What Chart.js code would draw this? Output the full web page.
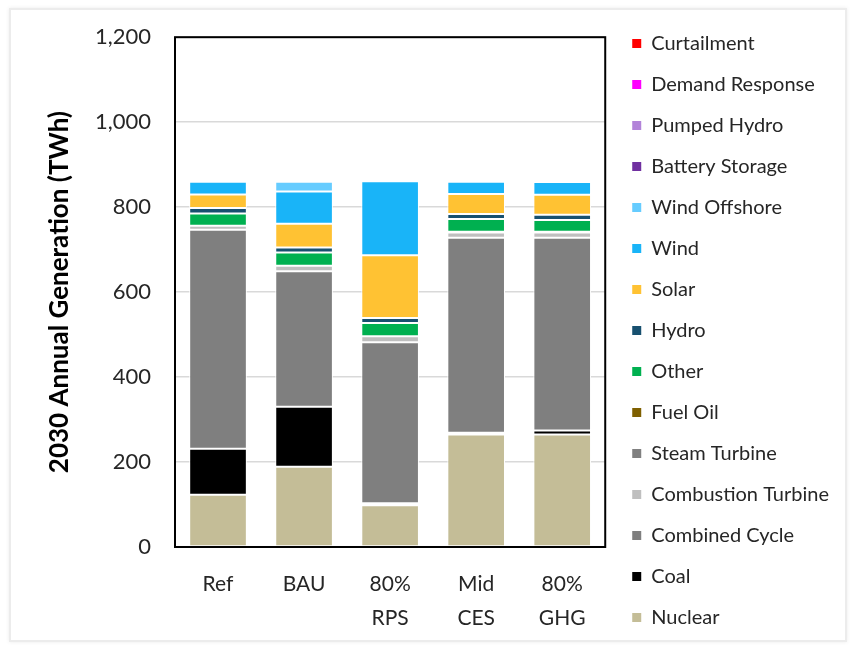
<!DOCTYPE html>
<html>
<head>
<meta charset="utf-8">
<title>2030 Annual Generation</title>
<script src="https://cdn.jsdelivr.net/npm/chart.js@4.4.0/dist/chart.umd.min.js"></script>
<style>
    body { margin: 0; background: #fff; }
    #wrap { position: relative; width: 851px; height: 650px; }
    #frame {
        position: absolute; left: 9px; top: 8px; width: 834px; height: 630px;
        border: 2px solid #ececec; box-shadow: 0 0 4px rgba(0,0,0,0.08);
        pointer-events: none;
    }
    canvas { position: absolute; left: 0; top: 0; }
</style>
</head>
<body>
<div id="wrap">
    <div id="frame"></div>
    <canvas id="genChart" width="851" height="650"></canvas>
</div>
<script>
// Scenarios along the x axis
const scenarios = ['Ref', 'BAU', ['80%', 'RPS'], ['Mid', 'CES'], ['80%', 'GHG']];

// Generation by technology, TWh
const nuclear           = [123, 189,  98, 265, 265];
const coal              = [108, 141,   5,   4,   9];
const combinedCycle     = [516, 319, 379, 459, 454];
const combustionTurbine = [  9,  13,  14,  12,  12];
const steamTurbine      = [  0,   0,   0,   2,   2];
const fuelOil           = [  0,   0,   0,   0,   0];
const other             = [ 29,  31,  31,  30,  28];
const hydro             = [ 13,  12,  12,  12,  12];
const solar             = [ 32,  56, 148,  47,  47];
const wind              = [ 30,  76, 174,  29,  30];
const windOffshore      = [  0,  23,   0,   0,   0];
const batteryStorage    = [  0,   0,   0,   0,   0];
const pumpedHydro       = [  0,   0,   0,   0,   0];
const demandResponse    = [  0,   0,   0,   0,   0];
const curtailment       = [  0,   0,   0,   0,   0];

// y axis
const yMin = 0;
const yMax = 1200;
const yStep = 200;

// bottom of stack first
const series = [
    { label: 'Nuclear',            data: nuclear,           color: '#c4bd97' },
    { label: 'Coal',               data: coal,              color: '#000000' },
    { label: 'Combined Cycle',     data: combinedCycle,     color: '#7f7f7f' },
    { label: 'Combustion Turbine', data: combustionTurbine, color: '#bfbfbf' },
    { label: 'Steam Turbine',      data: steamTurbine,      color: '#808080' },
    { label: 'Fuel Oil',           data: fuelOil,           color: '#7f6000' },
    { label: 'Other',              data: other,             color: '#00b050' },
    { label: 'Hydro',              data: hydro,             color: '#17506f' },
    { label: 'Solar',              data: solar,             color: '#ffc233' },
    { label: 'Wind',               data: wind,              color: '#19b4f8' },
    { label: 'Wind Offshore',      data: windOffshore,      color: '#66ccff' },
    { label: 'Battery Storage',    data: batteryStorage,    color: '#7030a0' },
    { label: 'Pumped Hydro',       data: pumpedHydro,       color: '#b283d9' },
    { label: 'Demand Response',    data: demandResponse,    color: '#ff00ff' },
    { label: 'Curtailment',        data: curtailment,       color: '#ff0000' }
];

// black frame round the plot area
const plotBox = {
    id: 'plotBox',
    afterDatasetsDraw(chart) {
        const a = chart.chartArea;
        const ctx = chart.ctx;
        ctx.save();
        ctx.strokeStyle = '#000';
        ctx.lineWidth = 2;
        ctx.strokeRect(a.left, a.top, a.right - a.left, a.bottom - a.top);
        ctx.restore();
    }
};

// empty spacer axes, only used to place the plot area
const spacer = (pos, size) => ({
    type: 'linear',
    position: pos,
    display: true,
    grid: { display: false, drawTicks: false },
    border: { display: false },
    ticks: { display: false },
    afterFit(scale) {
        if (pos === 'top') scale.height = size; else scale.width = size;
    }
});

function drawChart() {
    const ctx = document.getElementById('genChart').getContext('2d');
    new Chart(ctx, {
        type: 'bar',
        data: {
            labels: scenarios,
            datasets: series.map(s => ({
                label: s.label,
                data: s.data,
                backgroundColor: s.color,
                borderColor: '#ffffff',
                borderWidth: 1,
                borderSkipped: false,
                categoryPercentage: 1.0,
                barPercentage: 0.67
            }))
        },
        options: {
            responsive: false,
            animation: false,
            layout: { padding: { left: 10, top: 11, right: 12, bottom: 0 } },
            scales: {
                x: {
                    stacked: true,
                    grid: { display: false, drawTicks: false },
                    border: { display: false },
                    ticks: {
                        color: '#262626',
                        padding: 20,
                        font: { family: 'Lato', size: 21, lineHeight: 1.62 }
                    },
                    afterFit(scale) { scale.height = 103; }
                },
                y: {
                    stacked: true,
                    min: yMin,
                    max: yMax,
                    grid: { color: '#d9d9d9', lineWidth: 1.5, drawTicks: false },
                    border: { display: false },
                    ticks: {
                        stepSize: yStep,
                        color: '#262626',
                        padding: 24,
                        font: { family: 'Lato', size: 22 },
                        callback: v => v.toLocaleString('en-US')
                    },
                    title: {
                        display: true,
                        text: '2030 Annual Generation (TWh)',
                        color: '#000',
                        font: { family: 'Lato', size: 26, weight: 'bold' },
                        padding: { top: 34, bottom: 0 }
                    },
                    afterFit(scale) { scale.width = 165; }
                },
                xTop: spacer('top', 24),
                yRight: spacer('right', 6)
            },
            plugins: {
                legend: {
                    position: 'right',
                    reverse: true,
                    maxWidth: 300,
                    labels: {
                        boxWidth: 9,
                        boxHeight: 9,
                        padding: 21,
                        color: '#262626',
                        font: { family: 'Lato', size: 20 },
                        generateLabels(chart) {
                            const items = Chart.defaults.plugins.legend.labels.generateLabels(chart);
                            items.forEach(it => { it.strokeStyle = it.fillStyle; it.lineWidth = 0; });
                            return items;
                        }
                    }
                },
                tooltip: { enabled: false }
            }
        },
        plugins: [plotBox]
    });
}

// make sure Lato is ready so the legend is measured with it
Promise.all([
    document.fonts.load('20px Lato'),
    document.fonts.load('bold 26px Lato')
]).then(drawChart, drawChart);
</script>
</body>
</html>
